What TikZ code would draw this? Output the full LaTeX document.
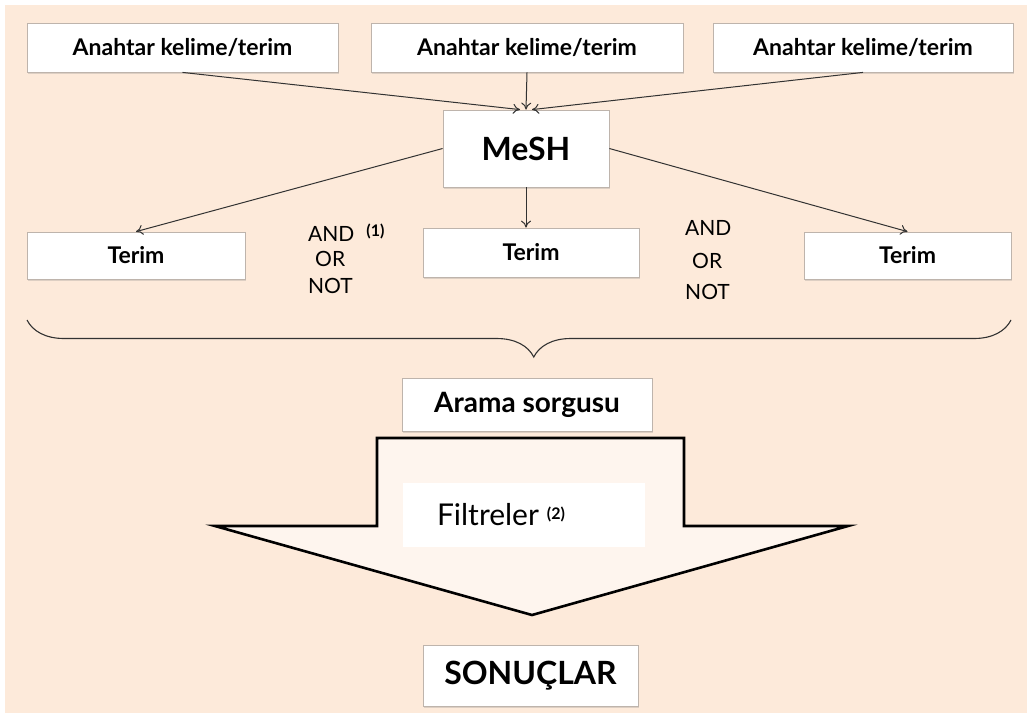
\documentclass[tikz,border=0pt]{standalone}
\usepackage{fontspec}
\setmainfont{Lato}
\usetikzlibrary{arrows.meta,decorations.pathreplacing,shadows}

\definecolor{peach}{RGB}{253,234,218}
\definecolor{arrowfill}{RGB}{254,245,238}
\definecolor{edgegray}{RGB}{190,180,172}
\definecolor{linegray}{RGB}{50,50,50}

\newcommand{\notemark}[2]{\raisebox{#2}{\bfseries\fontsize{16}{16}\selectfont(#1)}}

\tikzset{
  box/.style={draw=edgegray, fill=white, line width=0.8pt, inner sep=0pt,
    font=\bfseries\fontsize{23}{27}\selectfont,
    drop shadow={opacity=0.25, shadow xshift=1pt, shadow yshift=-1.5pt}},
  link/.style={draw=linegray, line width=1pt, -{To[length=7pt,width=10pt]}},
  oper/.style={anchor=west, inner sep=0pt, font=\fontsize{21}{24}\selectfont}
}

\begin{document}
\begin{tikzpicture}[x=1pt,y=-1pt]

%background
\fill[white] (0,0) rectangle (1027,713);
\fill[peach] (5,5) rectangle (1027,713);
\useasboundingbox (0,0) rectangle (1027,713);

%keyword boxes
\node[box, minimum width=311pt, minimum height=49pt] (kw1) at (182.5,47.5) {Anahtar kelime/terim};
\node[box, minimum width=312pt, minimum height=49pt] (kw2) at (527,47.5) {Anahtar kelime/terim};
\node[box, minimum width=300pt, minimum height=49pt] (kw3) at (863,47.5) {Anahtar kelime/terim};

%mesh box
\node[box, minimum width=166pt, minimum height=77pt, font=\bfseries\fontsize{32}{36}\selectfont] (mesh) at (526,148.5) {MeSH};

%term boxes
\node[box, minimum width=218pt, minimum height=47pt] (t1) at (136,255.5) {Terim};
\node[box, minimum width=216pt, minimum height=49pt] (t2) at (531,252.5) {Terim};
\node[box, minimum width=207pt, minimum height=47pt] (t3) at (907.5,255.5) {Terim};

%arrows
\draw[link] (kw1.south) -- ([xshift=-6pt]mesh.north);
\draw[link] (kw2.south) -- (mesh.north);
\draw[link] (kw3.south) -- ([xshift=6pt]mesh.north);
\draw[link] (mesh.west) -- (t1.north);
\draw[link] (mesh.south) -- (mesh.south |- t2.north);
\draw[link] (mesh.east) -- (t3.north);

%operators
\node[oper] (and1) at (308,233) {AND\hspace{12pt}\notemark{1}{5pt}};
\node[oper] (or1) at (315,259) {OR};
\node[oper] (not1) at (308,286) {NOT};
\node[oper] (and2) at (685,228) {AND};
\node[oper] (or2) at (692,261) {OR};
\node[oper] (not2) at (685,292) {NOT};

%brace
\coordinate (bl) at (27,320);
\coordinate (br) at (1011,320);
\draw[linegray, line width=1.1pt, decorate, decoration={brace, mirror, amplitude=37pt, aspect=0.515}] (bl) -- (br);

%query
\node[box, minimum width=250pt, minimum height=53pt, font=\bfseries\fontsize{28}{32}\selectfont] (query) at (527,404.5) {Arama sorgusu};

%big arrow
\draw[line width=2.6pt, fill=arrowfill, line join=miter] (377,438) -- (684,438) -- (684,526) -- (848,526) -- (532,615) -- (215,526) -- (377,526) -- cycle;
\node[fill=white, minimum height=64pt, inner ysep=0pt, inner xsep=34pt, text width=174pt, align=left, font=\fontsize{30}{34}\selectfont] (filt) at (524,515) {Filtreler\hspace{8pt}\notemark{2}{6pt}};

%results
\node[box, minimum width=215pt, minimum height=61pt, font=\bfseries\fontsize{32}{36}\selectfont] (res) at (530.5,675.5) {SONUÇLAR};

\end{tikzpicture}
\end{document}
